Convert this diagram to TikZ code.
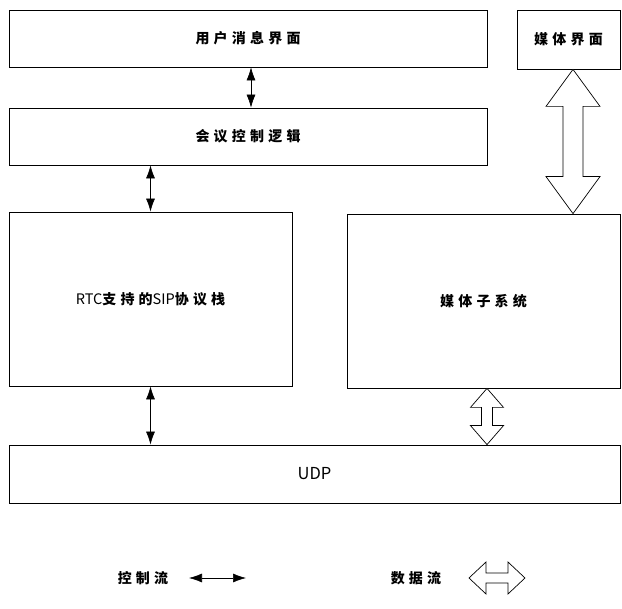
\documentclass[tikz,border=0pt]{standalone}
\usepackage{fontspec}
\setmainfont{Noto Sans CJK SC}
\newfontfamily\cjkspaced[LetterSpace=30]{Noto Sans CJK SC}
\newfontfamily\cjkplain{Noto Sans CJK SC}
\usetikzlibrary{arrows.meta,calc}

\tikzset{
  box/.style={draw, line width=0.8pt, inner sep=0pt},
  lbl/.style={font=\cjkspaced\bfseries\fontsize{14}{14}\selectfont},
  latin/.style={font=\cjkplain\fontsize{14.5}{14.5}\selectfont},
  ctrl/.style={{Latex[length=13pt,width=9pt]}-{Latex[length=13pt,width=9pt]}, line width=0.6pt},
  hollow/.style={draw, line width=0.7pt, fill=white, line join=miter},
}

% vertical hollow double arrow: #1 top, #2 bottom, #3 half head width, #4 half shaft width, #5 head length
\newcommand\vdblarrow[5]{%
  \draw[hollow] let \p1=(#1), \p2=(#2) in
    (\x1,\y1) -- (\x1+#3pt,\y1-#5pt) -- (\x1+#4pt,\y1-#5pt) -- (\x1+#4pt,\y2+#5pt)
    -- (\x1+#3pt,\y2+#5pt) -- (\x1,\y2) -- (\x1-#3pt,\y2+#5pt) -- (\x1-#4pt,\y2+#5pt)
    -- (\x1-#4pt,\y1-#5pt) -- (\x1-#3pt,\y1-#5pt) -- cycle;}
% horizontal hollow double arrow: #1 left, #2 right
\newcommand\hdblarrow[5]{%
  \draw[hollow] let \p1=(#1), \p2=(#2) in
    (\x1,\y1) -- (\x1+#5pt,\y1+#3pt) -- (\x1+#5pt,\y1+#4pt) -- (\x2-#5pt,\y1+#4pt)
    -- (\x2-#5pt,\y1+#3pt) -- (\x2,\y1) -- (\x2-#5pt,\y1-#3pt) -- (\x2-#5pt,\y1-#4pt)
    -- (\x1+#5pt,\y1-#4pt) -- (\x1+#5pt,\y1-#3pt) -- cycle;}

\begin{document}
\begin{tikzpicture}[x=1pt,y=-1pt]
\useasboundingbox (0,0) rectangle (622,609);

% boxes
\node[box, lbl, minimum width=478pt, minimum height=57pt] (b1) at (248,38.5) {用户消息界面};
\node[box, lbl, minimum width=103pt, minimum height=59pt] (mi) at (568.5,39.5) {媒体界面};
\node[box, lbl, minimum width=478pt, minimum height=57pt] (b2) at (248,136.5) {会议控制逻辑};
\node[box, latin, minimum width=283pt, minimum height=174pt] (b3) at (150.5,299)
  {RTC{\cjkspaced\bfseries\fontsize{14}{14}\selectfont 支持的}SIP{\cjkspaced\bfseries\fontsize{14}{14}\selectfont 协议栈}};
\node[box, lbl, minimum width=273pt, minimum height=174pt] (b4) at (483.5,301) {媒体子系统};
\node[box, latin, font=\cjkplain\fontsize{16.5}{16.5}\selectfont, minimum width=611pt, minimum height=58pt] (udp) at (314.5,474) {UDP};

% control flow arrows
\coordinate (c1a) at ($(b1.south)+(3,0)$);
\coordinate (c1b) at (c1a |- b2.north);
\draw[ctrl] (c1a) -- (c1b);
\coordinate (c2a) at (b2.south -| b3.north);
\draw[ctrl] (c2a) -- (b3.north);
\coordinate (c3b) at (b3.south |- udp.north);
\draw[ctrl] (b3.south) -- (c3b);

% data flow arrows
\coordinate (d1a) at ($(mi.south)+(4.5,0)$);
\coordinate (d1b) at (d1a |- b4.north);
\vdblarrow{d1a}{d1b}{27}{10}{37}
\coordinate (d2a) at ($(b4.south)+(3.5,0)$);
\coordinate (d2b) at (d2a |- udp.north);
\vdblarrow{d2a}{d2b}{16.5}{5.5}{19}

% legend
\node[lbl] (lc) at (143,578) {控制流};
\coordinate (lca) at (189,578);
\coordinate (lcb) at (246,578);
\draw[ctrl] (lca) -- (lcb);
\node[lbl] (ld) at (416,578) {数据流};
\coordinate (lda) at (469,578);
\coordinate (ldb) at (525,578);
\hdblarrow{lda}{ldb}{16}{5}{17}
\end{tikzpicture}
\end{document}
